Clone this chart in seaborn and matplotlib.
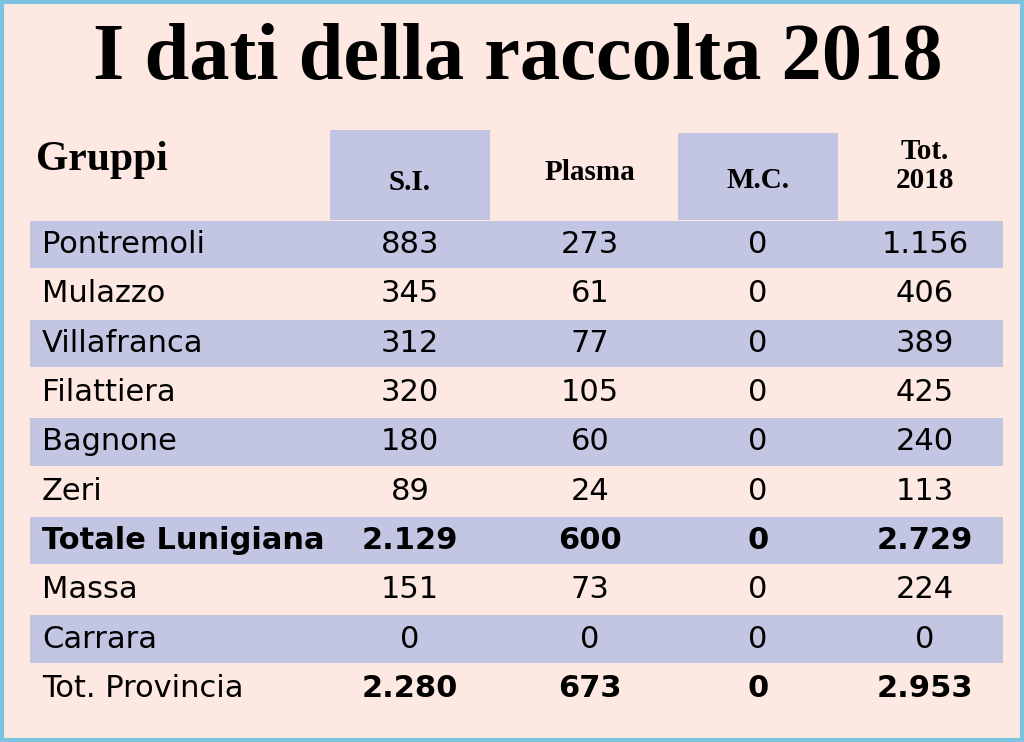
import matplotlib
matplotlib.use("Agg")
import matplotlib.pyplot as plt
import seaborn as sns

sns.set_theme(style="white", rc={"text.color": "black"})

TITLE = "I dati della raccolta 2018"
HEADERS = ["S.I.", "Plasma", "M.C.", "Tot.\n2018"]
GROUPS = ["Pontremoli", "Mulazzo", "Villafranca", "Filattiera", "Bagnone", "Zeri",
          "Totale Lunigiana", "Massa", "Carrara", "Tot. Provincia"]
SI = ["883", "345", "312", "320", "180", "89", "2.129", "151", "0", "2.280"]
PLASMA = ["273", "61", "77", "105", "60", "24", "600", "73", "0", "673"]
MC = ["0", "0", "0", "0", "0", "0", "0", "0", "0", "0"]
TOT = ["1.156", "406", "389", "425", "240", "113", "2.729", "224", "0", "2.953"]
BOLD_ROWS = {"Totale Lunigiana", "Tot. Provincia"}

BG = "#fde8e2"
BAND = "#c2c6e2"
BORDER = "#7cc3e0"

fig = plt.figure(figsize=(10.24, 7.42), dpi=100)
fig.patch.set_facecolor(BG)
ax = fig.add_axes([0, 0, 1, 1])
ax.set_xlim(0, 1024)
ax.set_ylim(742, 0)
ax.axis("off")
ax.add_patch(plt.Rectangle((2, 2), 1020, 738, fill=False, ec=BORDER, lw=3))

ax.text(518, 60, TITLE, ha="center", va="center", fontsize=58,
        fontweight="bold", family="Liberation Serif", color="black")

# header
ax.add_patch(plt.Rectangle((330, 130), 160, 90, color=BAND, lw=0))
ax.add_patch(plt.Rectangle((678, 133), 160, 87, color=BAND, lw=0))
ax.text(36, 160, "Gruppi", ha="left", va="center", fontsize=30,
        fontweight="bold", family="Liberation Serif", color="black")
col_x = [410, 590, 758, 925]
head_y = [182, 172, 180, 166]
for x, y, h in zip(col_x, head_y, HEADERS):
    ax.text(x, y, h, ha="center", va="center", fontsize=21, fontweight="bold",
            family="Liberation Serif", linespacing=1.1, color="black")

row_h = 49.3
top = 220
for i, g in enumerate(GROUPS):
    y0 = top + i * row_h
    yc = y0 + row_h / 2
    if i % 2 == 0:
        ax.add_patch(plt.Rectangle((30, y0 + 1), 973, row_h - 2, color=BAND, lw=0))
    bold = g in BOLD_ROWS
    name_bold = g == "Totale Lunigiana"
    ax.text(42, yc, g, ha="left", va="center", fontsize=22, color="black",
            fontweight="bold" if name_bold else "normal", family="DejaVu Sans")
    for x, v in zip(col_x, [SI[i], PLASMA[i], MC[i], TOT[i]]):
        ax.text(x, yc, v, ha="center", va="center", fontsize=22, color="black",
                fontweight="bold" if bold else "normal", family="DejaVu Sans")

fig.savefig("out.png", dpi=100, facecolor=BG)
